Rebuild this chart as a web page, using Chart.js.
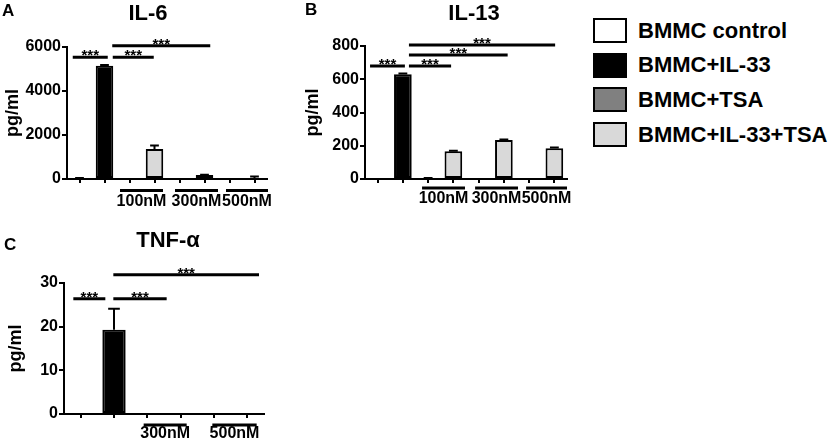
<!DOCTYPE html>
<html>
<head>
<meta charset="utf-8">
<script src="https://cdn.jsdelivr.net/npm/chart.js@4"></script>
<style>
  html, body { margin: 0; padding: 0; background: #fff; }
  #wrap { position: relative; width: 829px; height: 446px; overflow: hidden; font-family: 'Liberation Sans', Arial, sans-serif; }
  canvas { position: absolute; }
  .lg-row { position: absolute; left: 593px; height: 25px; display: flex; align-items: center; }
  .lg-box { width: 30px; height: 21px; border: 2px solid #000; }
  .lg-text { margin-left: 11px; font-weight: bold; font-size: 22px; color: #000; white-space: nowrap; }
</style>
</head>
<body>
<div id="wrap">
  <canvas id="chartA" width="280" height="215" style="left:0;top:0"></canvas>
  <canvas id="chartB" width="280" height="215" style="left:300px;top:0"></canvas>
  <canvas id="chartC" width="280" height="221" style="left:0;top:225px"></canvas>
  <div id="legend"></div>
</div>
<script>
const FONT = "'Liberation Sans', Arial, sans-serif";

// series (legend) and their fills
const seriesNames = ['BMMC control', 'BMMC+IL-33', 'BMMC+TSA', 'BMMC+IL-33+TSA'];
const seriesColors = ['#ffffff', '#000000', '#808080', '#d9d9d9'];

// categories for panels A and B (8 bars) and panel C (6 bars)
const catsAB = ['control', 'IL-33', 'TSA 100nM', 'IL-33+TSA 100nM', 'TSA 300nM', 'IL-33+TSA 300nM', 'TSA 500nM', 'IL-33+TSA 500nM'];
const seriesAB = [0, 1, 2, 3, 2, 3, 2, 3];
const catsC = ['control', 'IL-33', 'TSA 300nM', 'IL-33+TSA 300nM', 'TSA 500nM', 'IL-33+TSA 500nM'];
const seriesC = [0, 1, 2, 3, 2, 3];

// values (pg/ml) and error bars
const il6Values = [30, 5150, 0, 1360, 0, 180, 0, 10];
const il6Err = [10, 30, 0, 165, 0, 10, 0, 100];
const il13Values = [0, 630, 5, 167, 0, 234, 0, 185];
const il13Err = [0, 4, 1, 3, 0, 4, 0, 4];
const tnfValues = [0, 19.3, 0, 0, 0, 0];
const tnfErr = [0, 4.8, 0, 0, 0, 0];

// y ticks
const il6Ticks = { max: 6000, step: 2000 };
const il13Ticks = { max: 800, step: 200 };
const tnfTicks = { max: 30, step: 10 };

// significance bars: [from category, to category, height in pg/ml]
const il6Sig = [[-0.27, 1.13, 5530], [1.33, 2.97, 5530], [1.31, 5.23, 6060]];
const il13Sig = [[-0.3, 1.08, 680], [1.24, 2.91, 680], [1.24, 5.15, 746], [1.24, 7.03, 806]];
const tnfSig = [[-0.22, 0.74, 26.4], [0.98, 2.58, 26.4], [0.98, 5.35, 31.9]];

// concentration groups under the axis: [label, from category, to category]
const groupsA = [['100nM', 1.62, 3.34], ['300nM', 3.82, 5.54], ['500nM', 5.86, 7.54]];
const groupsB = [['100nM', 1.76, 3.46], ['300nM', 3.86, 5.56], ['500nM', 5.88, 7.5]];
const groupsC = [['300nM', 1.89, 3.18], ['500nM', 3.95, 5.28]];

const panelDecor = {
  id: 'panelDecor',
  afterDatasetsDraw(chart, args, opts) {
    const { ctx, scales: { y } } = chart;
    const meta = chart.getDatasetMeta(0);
    ctx.save();
    ctx.strokeStyle = '#000';
    ctx.lineWidth = 2;
    meta.data.forEach((bar, i) => {
      const e = opts.errors[i];
      if (!e) return;
      const top = y.getPixelForValue(opts.values[i] + e);
      const half = bar.width / 4;
      ctx.beginPath();
      ctx.moveTo(bar.x, bar.y);
      ctx.lineTo(bar.x, top);
      ctx.moveTo(bar.x - half, top);
      ctx.lineTo(bar.x + half, top);
      ctx.stroke();
    });
    ctx.restore();
  },
  afterDraw(chart, args, opts) {
    const { ctx, chartArea, scales: { x, y } } = chart;
    ctx.save();
    ctx.fillStyle = '#000';
    ctx.strokeStyle = '#000';
    ctx.font = 'bold 17px ' + FONT;
    ctx.textAlign = 'left';
    ctx.textBaseline = 'middle';
    ctx.fillText(opts.letter, opts.letterAt[0], opts.letterAt[1]);
    ctx.font = 'bold 22px ' + FONT;
    ctx.textAlign = 'center';
    ctx.fillText(opts.title, opts.titleAt[0], opts.titleAt[1]);

    ctx.lineWidth = 3;
    ctx.font = 'bold 15px ' + FONT;
    ctx.textBaseline = 'alphabetic';
    opts.sig.forEach(([a, b, v]) => {
      const x1 = x.getPixelForValue(a), x2 = x.getPixelForValue(b), yy = y.getPixelForValue(v);
      ctx.beginPath(); ctx.moveTo(x1, yy); ctx.lineTo(x2, yy); ctx.stroke();
      ctx.fillText('***', (x1 + x2) / 2, yy + 3);
    });

    ctx.font = 'bold 16px ' + FONT;
    ctx.textBaseline = 'middle';
    const lineY = chartArea.bottom + opts.groupGap[0];
    const textY = chartArea.bottom + opts.groupGap[1];
    opts.groups.forEach(([label, a, b]) => {
      const x1 = x.getPixelForValue(a), x2 = x.getPixelForValue(b);
      ctx.beginPath(); ctx.moveTo(x1, lineY); ctx.lineTo(x2, lineY); ctx.stroke();
      ctx.fillText(label, (x1 + x2) / 2, textY);
    });
    ctx.restore();
  }
};

function makePanel(id, cats, series, values, errors, ticks, box, decor) {
  return new Chart(document.getElementById(id), {
    type: 'bar',
    data: {
      labels: cats,
      datasets: [{
        data: values,
        backgroundColor: series.map(s => seriesColors[s]),
        borderColor: '#000',
        borderWidth: 2,
        borderSkipped: false,
        barPercentage: 0.7,
        categoryPercentage: 1,
      }],
    },
    options: {
      responsive: false,
      animation: false,
      layout: { padding: { left: 0, top: box.top, right: box.right, bottom: 0 } },
      scales: {
        x: {
          offset: true,
          ticks: { display: false },
          grid: { display: true, offset: false, drawOnChartArea: false, drawTicks: true, tickLength: 4, color: '#000', lineWidth: 2 },
          border: { display: true, color: '#000', width: 2 },
          afterFit: s => { s.height = box.xh; },
        },
        y: {
          min: 0, max: ticks.max,
          ticks: { stepSize: ticks.step, color: '#000', padding: 1, callback: v => String(v), font: { family: FONT, size: 16, weight: 'bold' } },
          grid: { display: true, drawOnChartArea: false, drawTicks: true, tickLength: 5, color: '#000', lineWidth: 2 },
          border: { display: true, color: '#000', width: 2 },
          title: { display: true, text: 'pg/ml', color: '#000', padding: { top: box.tp, bottom: 0 }, font: { family: FONT, size: 18, weight: 'bold' } },
          afterFit: s => { s.width = box.yw; },
        },
      },
      plugins: {
        legend: { display: false },
        tooltip: { enabled: false },
        panelDecor: Object.assign({ values, errors }, decor),
      },
    },
    plugins: [panelDecor],
  });
}

makePanel('chartA', catsAB, seriesAB, il6Values, il6Err, il6Ticks,
  { top: 47, right: 13, xh: 36, yw: 67, tp: 2 },
  { letter: 'A', letterAt: [2, 11], title: 'IL-6', titleAt: [148, 14], sig: il6Sig, groups: groupsA, groupGap: [11.5, 23] });

makePanel('chartB', catsAB, seriesAB, il13Values, il13Err, il13Ticks,
  { top: 46, right: 13, xh: 36, yw: 65, tp: 2 },
  { letter: 'B', letterAt: [5, 10], title: 'IL-13', titleAt: [174, 14], sig: il13Sig, groups: groupsB, groupGap: [9, 20] });

makePanel('chartC', catsC, seriesC, tnfValues, tnfErr, tnfTicks,
  { top: 58, right: 16, xh: 32, yw: 64, tp: 5 },
  { letter: 'C', letterAt: [4, 20], title: 'TNF-α', titleAt: [168, 16], sig: tnfSig, groups: groupsC, groupGap: [11, 20] });

// legend
const legend = document.getElementById('legend');
seriesNames.forEach((name, i) => {
  const row = document.createElement('div');
  row.className = 'lg-row';
  row.style.top = (18 + i * 34.7) + 'px';
  row.innerHTML = '<div class="lg-box" style="background:' + seriesColors[i] + '"></div><div class="lg-text">' + name + '</div>';
  legend.appendChild(row);
});
</script>
</body>
</html>
